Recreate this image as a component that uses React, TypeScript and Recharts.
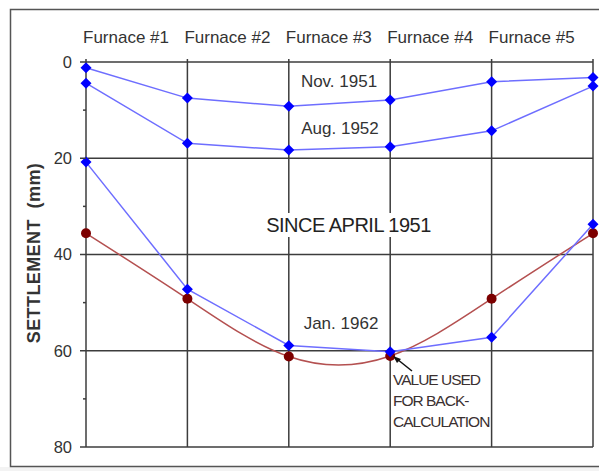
import { LineChart, Line, XAxis, YAxis, CartesianGrid } from 'recharts';

const positions = [0, 1, 2, 3, 4, 5];
const furnaces = ['Furnace #1', 'Furnace #2', 'Furnace #3', 'Furnace #4', 'Furnace #5'];
const nov1951 = [1.2, 7.5, 9.2, 7.9, 4.1, 3.2];
const aug1952 = [4.4, 16.9, 18.3, 17.6, 14.3, 5.0];
const jan1962 = [20.8, 47.2, 58.9, 60.2, 57.2, 33.7];
const jan1962Fit = [35.6, 49.2, 61.2, 61.1, 49.2, 35.6];
const yTicks = [0, 10, 20, 30, 40, 50, 60, 70, 80];
const yGrid = [0, 20, 40, 60, 80];

const data = positions.map((x, i) => ({
  x,
  nov: nov1951[i],
  aug: aug1952[i],
  jan: jan1962[i],
  fit: jan1962Fit[i],
}));

const FONT = '"Liberation Sans", Arial, sans-serif';
const BLUE_LINE = '#6e6eff';
const RED_LINE = '#b45050';
const GRID = '#3c3c3c';

function Diamond(props: any) {
  const { cx, cy, index } = props;
  if (cx == null || cy == null) return null;
  const r = 5.5;
  return (
    <polygon
      key={`d-${index}`}
      points={`${cx},${cy - r} ${cx + r},${cy} ${cx},${cy + r} ${cx - r},${cy}`}
      fill="#0000ff"
    />
  );
}

function RedDot(props: any) {
  const { cx, cy, index } = props;
  if (cx == null || cy == null) return null;
  return <circle key={`r-${index}`} cx={cx} cy={cy} r={5} fill="#7c0000" />;
}

function FurnaceTick(props: any) {
  const { x, y, payload } = props;
  const label = furnaces[payload.value];
  if (!label) return null;
  return (
    <text x={x - 3} y={y - 16} textAnchor="start" fontSize={17} fill="#333" fontFamily={FONT}>
      {label}
    </text>
  );
}

function SettlementTick(props: any) {
  const { x, y, payload } = props;
  const major = payload.value % 20 === 0;
  return (
    <g>
      <line x1={x - (major ? 6 : 3)} x2={x} y1={y} y2={y} stroke={GRID} strokeWidth={1.5} />
      {major && (
        <text x={x - 14} y={y} dy="0.35em" textAnchor="end" fontSize={16.5} fill="#333" fontFamily={FONT}>
          {payload.value}
        </text>
      )}
    </g>
  );
}

export default function App() {
  return (
    <div style={{ position: 'absolute', left: 0, top: 0, width: 599, height: 471, background: '#fff' }}>
      <LineChart
        width={599}
        height={471}
        data={data}
        margin={{ top: 32, right: 6, bottom: 24, left: 10 }}
      >
        <CartesianGrid
          horizontalValues={yGrid}
          verticalValues={positions}
          stroke={GRID}
          strokeWidth={1.5}
        />
        <XAxis
          dataKey="x"
          type="number"
          orientation="top"
          domain={[0, 5]}
          ticks={positions}
          height={30}
          axisLine={false}
          tickSize={3}
          tickMargin={0}
          tickLine={{ stroke: GRID, strokeWidth: 1.5 }}
          tick={<FurnaceTick />}
        />
        <XAxis
          xAxisId="b"
          dataKey="x"
          type="number"
          orientation="bottom"
          domain={[0, 5]}
          ticks={positions}
          height={0}
          axisLine={false}
          tickSize={4}
          tickLine={{ stroke: GRID, strokeWidth: 1.5 }}
          tick={false}
        />
        <YAxis
          type="number"
          reversed
          domain={[0, 80]}
          ticks={yTicks}
          width={76}
          axisLine={false}
          tickLine={false}
          tickSize={0}
          tickMargin={0}
          tick={<SettlementTick />}
        />
        <Line dataKey="nov" type="linear" stroke={BLUE_LINE} strokeWidth={1.5} dot={<Diamond />} isAnimationActive={false} />
        <Line dataKey="aug" type="linear" stroke={BLUE_LINE} strokeWidth={1.5} dot={<Diamond />} isAnimationActive={false} />
        <Line dataKey="fit" type="natural" stroke={RED_LINE} strokeWidth={1.5} dot={<RedDot />} isAnimationActive={false} />
        <Line dataKey="jan" type="linear" stroke={BLUE_LINE} strokeWidth={1.5} dot={<Diamond />} isAnimationActive={false} />
      </LineChart>
      <svg
        width={599}
        height={471}
        style={{ position: 'absolute', left: 0, top: 0, pointerEvents: 'none' }}
        fontFamily={FONT}
      >
        <rect x={0} y={467} width={599} height={4} fill="#f3f3f3" />
        <rect x={10.5} y={9.5} width={600} height={457} fill="none" stroke="#555" strokeWidth={1.5} />
        <text
          transform="translate(34,253) rotate(-90)"
          textAnchor="middle"
          dy="0.35em"
          fontSize={18}
          letterSpacing={0.4}
          fontWeight="bold"
          fill="#333"
          style={{ whiteSpace: 'pre' }}
        >
          {'SETTLEMENT  (mm)'}
        </text>
        <text x={339} y={81} dy="0.35em" textAnchor="middle" fontSize={17} fill="#333">Nov. 1951</text>
        <text x={340} y={128} dy="0.35em" textAnchor="middle" fontSize={17} fill="#333">Aug. 1952</text>
        <text x={341} y={323} dy="0.35em" textAnchor="middle" fontSize={17} fill="#333">Jan. 1962</text>
        <rect x={252} y={213} width={193} height={24} fill="#fff" />
        <text x={348.5} y={225} dy="0.35em" textAnchor="middle" fontSize={20} letterSpacing={-0.5} fill="#222">
          SINCE APRIL 1951
        </text>
        <line x1={412} y1={371} x2={397} y2={359} stroke="#111" strokeWidth={1.5} />
        <polygon points="393,356 401,359 397,363" fill="#111" />
        <g fontSize={15.5} fill="#3a3030" letterSpacing={-1}>
          <text x={393} y={380} dy="0.35em">VALUE USED</text>
          <text x={393} y={401} dy="0.35em">FOR BACK-</text>
          <text x={393} y={422} dy="0.35em">CALCULATION</text>
        </g>
      </svg>
    </div>
  );
}
